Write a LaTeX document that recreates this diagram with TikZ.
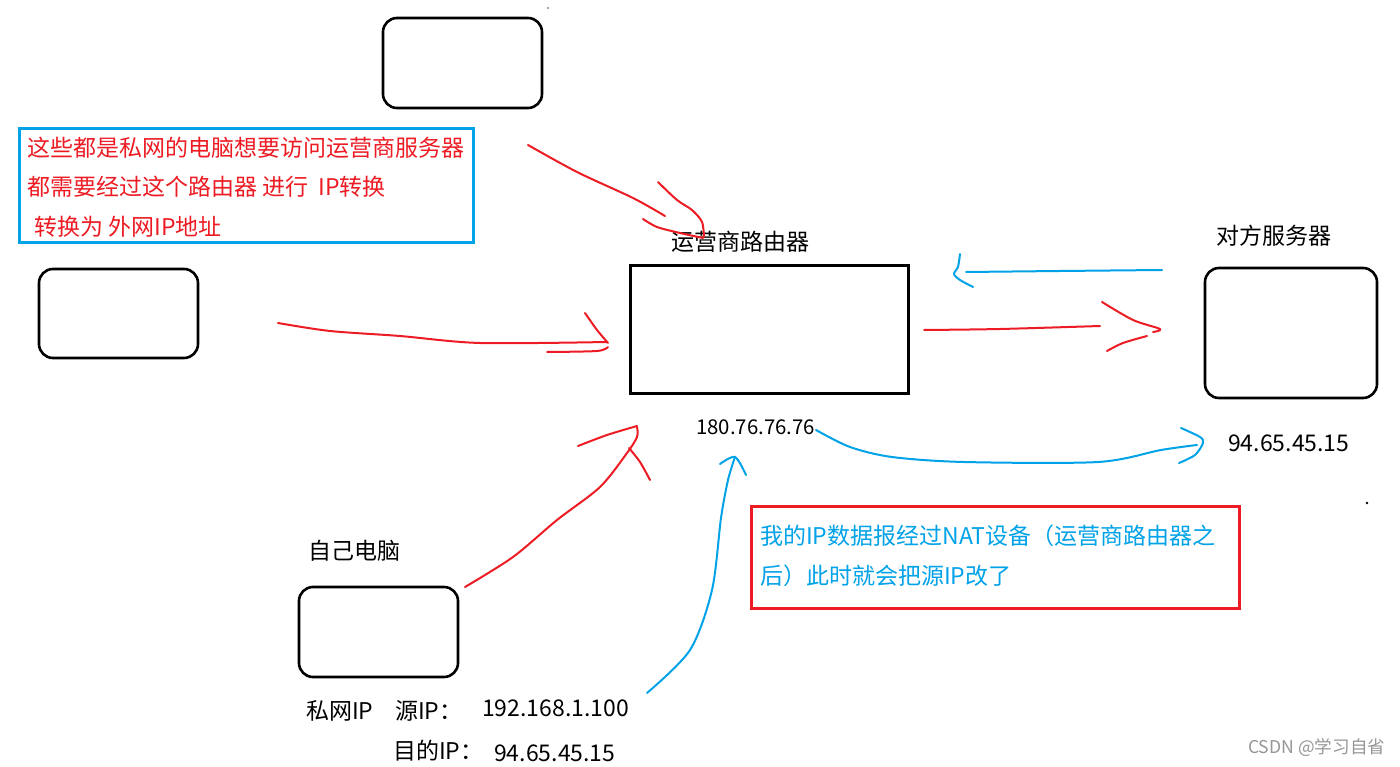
\documentclass[tikz,border=0pt]{standalone}
\usepackage{fontspec}
\setmainfont{Noto Sans CJK SC}
\definecolor{pred}{RGB}{237,28,36}
\definecolor{pblue}{RGB}{0,162,232}
\definecolor{wm}{RGB}{150,150,150}
\begin{document}
\begin{tikzpicture}[x=1pt,y=-1pt,
  pc/.style={draw=black,line width=2.6pt,rounded corners=14pt,inner sep=0pt,outer sep=0pt},
  router/.style={draw=black,line width=3pt,inner sep=0pt,outer sep=0pt},
  frame/.style={line width=3pt,inner sep=0pt,outer sep=0pt},
  lbl/.style={anchor=west,inner sep=0pt,font=\fontsize{23}{27}\selectfont},
  note/.style={anchor=west,inner sep=0pt,font=\fontsize{23}{27}\selectfont},
  rstroke/.style={draw=pred,line width=2pt,line cap=round,line join=round},
  bstroke/.style={draw=pblue,line width=2pt,line cap=round,line join=round}]
\useasboundingbox (0,0) rectangle (1400,767);
\fill[white] (0,0) rectangle (1400,767);

% boxes
\node[pc,minimum width=159pt,minimum height=90pt] (top) at (462.5,63) {};
\node[pc,minimum width=159pt,minimum height=89pt] (left) at (118.5,313.5) {};
\node[pc,minimum width=159pt,minimum height=90pt] (self) at (378.5,632) {};
\node[router,minimum width=278pt,minimum height=127pt] (router) at (769,329.5) {};
\node[pc,minimum width=172pt,minimum height=130pt] (server) at (1291,333) {};
\node[frame,draw=pblue,minimum width=454pt,minimum height=114pt] (bluebox) at (246,186) {};
\node[frame,draw=pred,minimum width=488pt,minimum height=102pt] (redbox) at (995,557) {};

% texts
\node[note,text=pred] (b1) at (27,148) {这些都是私网的电脑想要访问运营商服务器};
\node[note,text=pred] (b2) at (27,187) {都需要经过这个路由器 进行\ \ IP转换};
\node[note,text=pred] (b3) at (34,227) {转换为 外网IP地址};
\node[lbl] (routerlbl) at (671,242) {运营商路由器};
\node[lbl] (serverlbl) at (1216,236) {对方服务器};
\node[anchor=west,inner sep=0pt,font=\fontsize{20.4}{24}\selectfont] (rip) at (696,427) {180.76.76.76};
\node[lbl] (sip) at (1228,443) {94.65.45.15};
\node[lbl] (selflbl) at (308,551) {自己电脑};
\node[lbl] (p1) at (306,711) {私网IP};
\node[lbl] (p2) at (395,711) {源IP：};
\node[lbl] (p3) at (482,708) {192.168.1.100};
\node[lbl] (p4) at (393,751) {目的IP：};
\node[lbl] (p5) at (494,753) {94.65.45.15};
\node[note,text=pblue] (r1) at (760,536) {我的IP数据报经过NAT设备（运营商路由器之};
\node[note,text=pblue] (r2) at (760,576) {后）此时就会把源IP改了};
\node[anchor=west,inner sep=0pt,text=wm,font=\fontsize{17.6}{21}\selectfont] (wmark) at (1248,748) {CSDN @学习自省};

% tiny dots
\fill[black!70] (548,8) circle (0.8pt);
\fill[black] (1367,503) circle (1.3pt);

% red arrow 1 (top box to router)
\draw[rstroke] plot[smooth] coordinates {(528,145) (577,172) (633,198) (665,216)};
\draw[rstroke] plot[smooth] coordinates {(658,182) (677,200) (692,210) (702,222) (704,237)};
\draw[rstroke] plot[smooth] coordinates {(643,219) (657,227) (680,233) (703,238)};

% red arrow 2 (left box to router)
\draw[rstroke] plot[smooth] coordinates {(278,323) (330,331) (400,336) (480,343) (607,342)};
\draw[rstroke] plot[smooth] coordinates {(585,313) (597,330) (608,343)};
\draw[rstroke] plot[smooth] coordinates {(608,347) (597,351) (547,352)};

% red arrow 3 (router to server)
\draw[rstroke] plot[smooth] coordinates {(924,330) (1000,329) (1100,326)};
\draw[rstroke] plot[smooth] coordinates {(1102,302) (1133,320) (1160,329) (1153,332)};
\draw[rstroke] plot[smooth] coordinates {(1147,336) (1123,343) (1107,351)};

% blue arrow 4 (server to router)
\draw[bstroke] plot[smooth] coordinates {(1162,270) (1060,271) (966,272)};
\draw[bstroke] plot[smooth] coordinates {(960,254) (958,267) (954,274) (960,280) (973,287)};

% red arrow 5 (self to router)
\draw[rstroke] plot[smooth] coordinates {(465,587) (513,557) (557,520) (600,487) (627,453) (637,437) (637,427)};
\draw[rstroke] plot[smooth] coordinates {(578,446) (607,435) (637,426)};
\draw[rstroke] plot[smooth] coordinates {(629,448) (640,462) (650,480)};

% blue arrow 6 (self IP to router IP)
\draw[bstroke] plot[smooth] coordinates {(647,693) (690,650) (712,590) (721,518) (728,480) (735,457)};
\draw[bstroke] plot[smooth] coordinates {(720,464) (735,457) (746,475)};

% blue arrow 7 (router IP to server IP)
\draw[bstroke] plot[smooth] coordinates {(816,430) (850,447) (892,457) (964,462) (1098,462) (1161,450) (1197,445)};
\draw[bstroke] plot[smooth] coordinates {(1181,428) (1200,437) (1203,443) (1195,455) (1179,463)};
\end{tikzpicture}
\end{document}
